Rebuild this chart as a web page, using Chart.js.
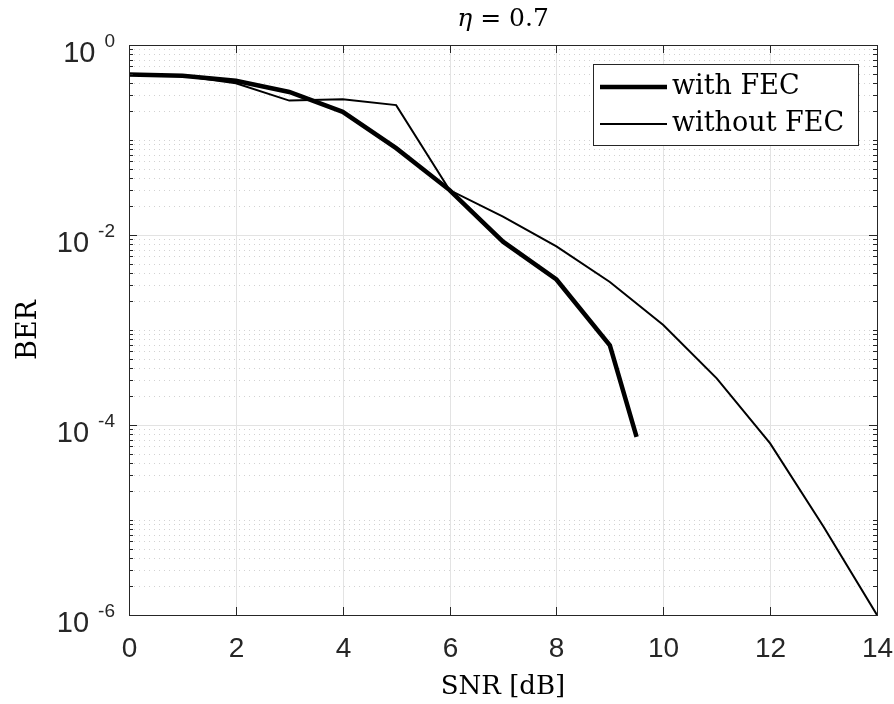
<!DOCTYPE html>
<html lang="en">
<head>
  <meta charset="UTF-8">
  <title>BER vs SNR, eta = 0.7</title>
  <script src="https://cdn.jsdelivr.net/npm/chart.js"></script>
  <style>
    body { margin: 0; padding: 0; background: #fff; }
    canvas { display: block; }
  </style>
</head>
<body>
  <canvas id="graph" width="894" height="704"></canvas>

  <script>
    // data
    const snrWithFec = [0, 1, 2, 3, 4, 5, 6, 7, 8, 9, 9.5];
    const berWithFec = [0.49, 0.475, 0.42, 0.32, 0.198, 0.082, 0.0297, 0.0085, 0.0034, 0.00069, 0.000075];
    const snrNoFec = [0, 1, 2, 3, 4, 5, 6, 7, 8, 9, 10, 11, 12, 13, 14];
    const berNoFec = [0.49, 0.475, 0.395, 0.26, 0.268, 0.233, 0.0297, 0.0156, 0.0076, 0.0032, 0.00113, 0.00031, 0.000064, 0.0000085, 0.000001];

    const xTicks = [0, 2, 4, 6, 8, 10, 12, 14];
    const yTickExps = [0, -2, -4, -6];
    const labels = ['with FEC', 'without FEC'];
    const titleSymbol = 'η';
    const titleRest = ' = 0.7';
    const xTitle = 'SNR [dB]';
    const yTitle = 'BER';

    const axisColor = '#262626';
    const serif = '"DejaVu Serif", serif';
    const sans = '"Liberation Sans", Arial, sans-serif';

    const decor = {
      id: 'decor',
      beforeDatasetsDraw(chart) {
        const { ctx, chartArea: a, scales: { x, y } } = chart;
        ctx.save();
        // minor dotted grid (y)
        ctx.strokeStyle = '#d2d2d2';
        ctx.lineWidth = 1;
        ctx.setLineDash([1, 4]);
        for (let e = -6; e < 0; e++) {
          for (let k = 1; k <= 9; k++) {
            if (k === 1 && e % 2 === 0) continue;
            const py = Math.round(y.getPixelForValue(k * Math.pow(10, e))) + 0.5;
            ctx.beginPath();
            ctx.moveTo(a.left, py);
            ctx.lineTo(a.right, py);
            ctx.stroke();
          }
        }
        // major grid
        ctx.setLineDash([]);
        ctx.strokeStyle = '#e3e3e3';
        xTicks.forEach(t => {
          const px = Math.round(x.getPixelForValue(t)) + 0.5;
          ctx.beginPath();
          ctx.moveTo(px, a.top);
          ctx.lineTo(px, a.bottom);
          ctx.stroke();
        });
        yTickExps.forEach(e => {
          const py = Math.round(y.getPixelForValue(Math.pow(10, e))) + 0.5;
          ctx.beginPath();
          ctx.moveTo(a.left, py);
          ctx.lineTo(a.right, py);
          ctx.stroke();
        });
        ctx.restore();
      },
      afterDraw(chart) {
        const { ctx, chartArea: a, scales: { x, y } } = chart;
        ctx.save();
        // frame
        ctx.strokeStyle = axisColor;
        ctx.lineWidth = 1;
        ctx.strokeRect(Math.round(a.left) + 0.5, Math.round(a.top) + 0.5,
          Math.round(a.right - a.left), Math.round(a.bottom - a.top));

        // x ticks (bottom and top)
        ctx.fillStyle = axisColor;
        ctx.font = '28px ' + sans;
        ctx.textAlign = 'center';
        ctx.textBaseline = 'alphabetic';
        xTicks.forEach(t => {
          const px = Math.round(x.getPixelForValue(t)) + 0.5;
          ctx.beginPath();
          ctx.moveTo(px, a.bottom); ctx.lineTo(px, a.bottom - 8);
          ctx.moveTo(px, a.top); ctx.lineTo(px, a.top + 8);
          ctx.stroke();
          ctx.fillText(String(t), px, a.bottom + 42);
        });

        // y ticks, minor and major
        for (let e = -6; e < 0; e++) {
          for (let k = 1; k <= 9; k++) {
            if (k === 1 && e % 2 === 0) continue;
            const py = Math.round(y.getPixelForValue(k * Math.pow(10, e))) + 0.5;
            ctx.beginPath();
            ctx.moveTo(a.left, py); ctx.lineTo(a.left + 4, py);
            ctx.moveTo(a.right, py); ctx.lineTo(a.right - 4, py);
            ctx.stroke();
          }
        }
        yTickExps.forEach(e => {
          const py = Math.round(y.getPixelForValue(Math.pow(10, e))) + 0.5;
          ctx.beginPath();
          ctx.moveTo(a.left, py); ctx.lineTo(a.left + 8, py);
          ctx.moveTo(a.right, py); ctx.lineTo(a.right - 8, py);
          ctx.stroke();
          // label 10^e
          const expStr = String(e);
          ctx.textAlign = 'right';
          ctx.font = '19px ' + sans;
          const ew = ctx.measureText(expStr).width;
          const right = a.left - 14;
          ctx.fillText(expStr, right, py + 1);
          ctx.font = '29px ' + sans;
          ctx.fillText('10', right - ew - 9, py + 16);
        });

        // axis titles
        ctx.textAlign = 'center';
        ctx.font = '26px ' + serif;
        ctx.fillStyle = '#000';
        ctx.fillText(xTitle, (a.left + a.right) / 2, 694);
        ctx.save();
        ctx.translate(36, (a.top + a.bottom) / 2);
        ctx.rotate(-Math.PI / 2);
        ctx.font = '27px ' + serif;
        ctx.fillText(yTitle, 0, 0);
        ctx.restore();

        // title: italic eta then the rest
        ctx.textAlign = 'left';
        ctx.font = 'italic 25px ' + serif;
        const w1 = ctx.measureText(titleSymbol).width;
        ctx.font = '25px ' + serif;
        const w2 = ctx.measureText(titleRest).width;
        const tx = (a.left + a.right) / 2 - (w1 + w2) / 2;
        ctx.font = 'italic 25px ' + serif;
        ctx.fillText(titleSymbol, tx, 26);
        ctx.font = '25px ' + serif;
        ctx.fillText(titleRest, tx + w1, 26);

        // legend
        const bx = 593, by = 64, bw = 265, bh = 81;
        ctx.fillStyle = '#fff';
        ctx.fillRect(bx, by, bw, bh);
        ctx.strokeStyle = axisColor;
        ctx.lineWidth = 1;
        ctx.strokeRect(bx + 0.5, by + 0.5, bw, bh);
        chart.data.datasets.forEach((ds, i) => {
          const ly = i === 0 ? 87 : 124;
          ctx.strokeStyle = ds.borderColor;
          ctx.lineWidth = ds.borderWidth;
          ctx.beginPath();
          ctx.moveTo(600, ly);
          ctx.lineTo(667, ly);
          ctx.stroke();
          ctx.fillStyle = '#000';
          ctx.textAlign = 'left';
          ctx.font = '27px ' + serif;
          ctx.fillText(ds.label, 672, ly + 7);
        });
        ctx.restore();
      }
    };

    const ctx = document.getElementById('graph').getContext('2d');
    const chart = new Chart(ctx, {
      type: 'line',
      data: {
        datasets: [{
          label: labels[0],
          data: snrWithFec.map((s, i) => ({ x: s, y: berWithFec[i] })),
          borderColor: '#000',
          borderWidth: 4.5,
          pointRadius: 0,
          tension: 0,
          order: 2
        }, {
          label: labels[1],
          data: snrNoFec.map((s, i) => ({ x: s, y: berNoFec[i] })),
          borderColor: '#000',
          borderWidth: 2,
          pointRadius: 0,
          tension: 0,
          order: 1
        }]
      },
      options: {
        responsive: false,
        animation: false,
        layout: { padding: { left: 129, top: 45, right: 17, bottom: 89 } },
        plugins: {
          legend: { display: false },
          title: { display: false },
          tooltip: { enabled: false }
        },
        scales: {
          x: { type: 'linear', min: 0, max: 14, display: false },
          y: { type: 'logarithmic', min: 1e-6, max: 1, display: false }
        }
      },
      plugins: [decor]
    });
  </script>
</body>
</html>
